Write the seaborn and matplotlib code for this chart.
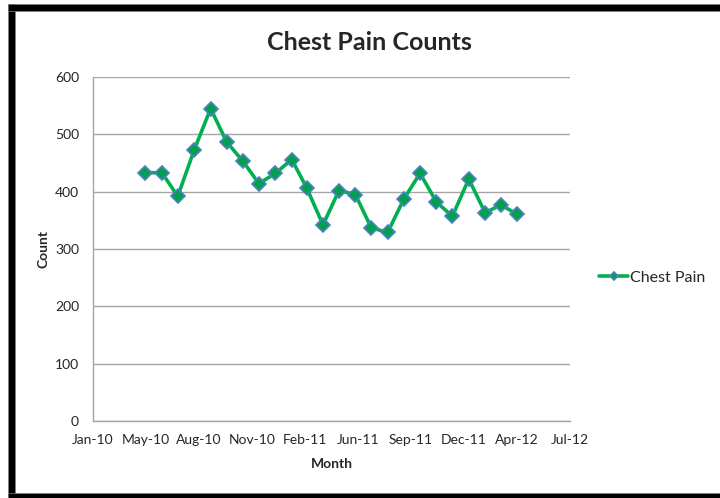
import pandas as pd
import numpy as np
import seaborn as sns
import matplotlib.pyplot as plt
import matplotlib.dates as mdates
from matplotlib.patches import Rectangle

# 月ごとの件数
months = ['2010-05-01', '2010-06-01', '2010-07-01', '2010-08-01', '2010-09-01', '2010-10-01',
          '2010-11-01', '2010-12-01', '2011-01-01', '2011-02-01', '2011-03-01', '2011-04-01',
          '2011-05-01', '2011-06-01', '2011-07-01', '2011-08-01', '2011-09-01', '2011-10-01',
          '2011-11-01', '2011-12-01', '2012-01-01', '2012-02-01', '2012-03-01', '2012-04-01']
counts = [433, 433, 392, 473, 545, 487, 453, 414, 432, 456, 407, 342,
          402, 395, 337, 329, 388, 432, 382, 357, 422, 363, 377, 361]
series_name = 'Chest Pain'

df = pd.DataFrame({'Month': pd.to_datetime(months), 'Count': counts})

sns.set_style('white')
plt.rcParams['font.family'] = ['Lato', 'DejaVu Sans']

fig = plt.figure(figsize=(7.2, 4.98), dpi=100)
ax = fig.add_axes([93 / 720, 77 / 498, 477 / 720, 344 / 498])

sns.lineplot(x='Month', y='Count', data=df, ax=ax, color='#00B050', linewidth=2.6,
             marker='D', markersize=7.5, markerfacecolor='#00A050',
             markeredgecolor='#4F81BD', markeredgewidth=1.2, label=series_name)

# Excel風の日付軸 (100日ごと)
excel0 = pd.Timestamp('1899-12-30')
xmin = excel0 + pd.Timedelta(days=40200)
xmax = excel0 + pd.Timedelta(days=41100)
ax.set_xlim(xmin, xmax)
ax.set_xticks([excel0 + pd.Timedelta(days=d) for d in range(40200, 41101, 100)])
ax.xaxis.set_major_formatter(mdates.DateFormatter('%b-%y'))

ax.set_ylim(0, 600)
ax.set_yticks(range(0, 601, 100))
ax.yaxis.grid(True, color='#A6A6A6', linewidth=1)
ax.set_axisbelow(True)

for s in ['top', 'right']:
    ax.spines[s].set_visible(False)
for s in ['left', 'bottom']:
    ax.spines[s].set_color('#A6A6A6')
    ax.spines[s].set_linewidth(1)

ax.tick_params(axis='y', length=4, color='#A6A6A6', labelsize=10, pad=6)
ax.tick_params(axis='x', length=0, labelsize=10, pad=9)

ax.set_xlabel('Month', fontsize=10, fontweight='bold', labelpad=9)
ax.set_ylabel('Count', fontsize=10, fontweight='bold', labelpad=4)
fig.text(369 / 720, 1 - 42 / 498, 'Chest Pain Counts', fontsize=18, fontweight='bold',
         ha='center', va='center')

ax.legend(loc='center left', bbox_to_anchor=(585 / 720, 1 - 278 / 498),
          bbox_transform=fig.transFigure, frameon=False, fontsize=11.5,
          handlelength=1.8, handletextpad=0.1, markerscale=0.6)

# 外枠 (左・上・下の黒帯)
W, H = 720, 498
for (x0, y0, w, h) in [(8, 4, 7, 494), (8, 4, 712, 7), (8, 493, 712, 5)]:
    fig.patches.append(Rectangle((x0 / W, 1 - (y0 + h) / H), w / W, h / H,
                                 transform=fig.transFigure, facecolor='black',
                                 edgecolor='#808080', linewidth=0.5))

fig.savefig('out.png', dpi=100)
